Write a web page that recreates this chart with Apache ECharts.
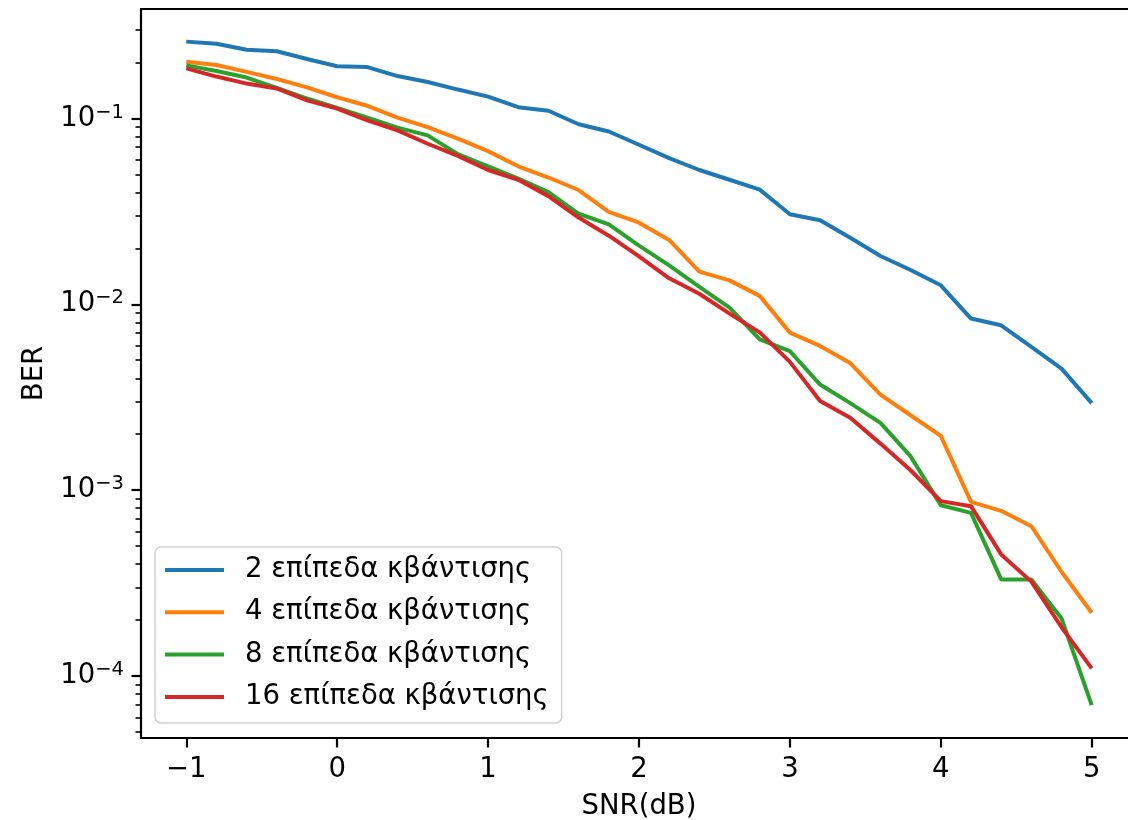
<!DOCTYPE html>
<html>
<head>
<meta charset="utf-8">
<script src="https://cdn.jsdelivr.net/npm/echarts@6/dist/echarts.min.js"></script>
<style>
  html, body { margin: 0; padding: 0; background: #fff; }
  #chart { width: 1128px; height: 820px; }
</style>
</head>
<body>
<div id="chart"></div>
<script>
// SNR values (dB)
var snr = [-1, -0.8, -0.6, -0.4, -0.2, 0, 0.2, 0.4, 0.6, 0.8, 1, 1.2, 1.4, 1.6, 1.8, 2,
           2.2, 2.4, 2.6, 2.8, 3, 3.2, 3.4, 3.6, 3.8, 4, 4.2, 4.4, 4.6, 4.8, 5];

var ber2 = [0.259, 0.252, 0.234, 0.230, 0.209, 0.191, 0.189, 0.169, 0.157, 0.143, 0.131,
            0.115, 0.110, 0.093, 0.0851, 0.0722, 0.0612, 0.0528, 0.0468, 0.0414, 0.0305,
            0.0283, 0.0228, 0.0182, 0.0153, 0.01265, 0.00838, 0.00771, 0.0059, 0.00451, 0.00294];
var ber4 = [0.202, 0.194, 0.178, 0.163, 0.147, 0.130, 0.117, 0.101, 0.0898, 0.0778, 0.0667,
            0.0553, 0.0481, 0.0412, 0.0314, 0.0275, 0.0222, 0.0150, 0.01345, 0.0111, 0.00704,
            0.00597, 0.00483, 0.00327, 0.00253, 0.00196, 0.000865, 0.000774, 0.00064, 0.000364, 0.000219];
var ber8 = [0.193, 0.180, 0.166, 0.146, 0.128, 0.114, 0.101, 0.0893, 0.0811, 0.0642, 0.0553,
            0.0474, 0.0402, 0.0307, 0.0269, 0.0207, 0.0162, 0.0124, 0.0096, 0.00648, 0.00560,
            0.00370, 0.00294, 0.00230, 0.00152, 0.00083, 0.000755, 0.000331, 0.000331, 0.000204, 0.0000698];
var ber16 = [0.186, 0.168, 0.154, 0.145, 0.125, 0.113, 0.0976, 0.0862, 0.0731, 0.0629, 0.0528,
             0.0468, 0.0382, 0.0293, 0.0234, 0.0181, 0.0138, 0.0114, 0.00891, 0.00706, 0.0049,
             0.00302, 0.00245, 0.00178, 0.00128, 0.000873, 0.00082, 0.000451, 0.000322, 0.000183, 0.000110];

var seriesNames = ['2 επίπεδα κβάντισης', '4 επίπεδα κβάντισης', '8 επίπεδα κβάντισης', '16 επίπεδα κβάντισης'];
var colors = ['#1f77b4', '#ff7f0e', '#2ca02c', '#d62728'];

var xTicks = [-1, 0, 1, 2, 3, 4, 5];
var yMajor = [0.1, 0.01, 0.001, 0.0001];
var yMinor = [];
[1e-5, 1e-4, 1e-3, 1e-2, 1e-1].forEach(function (d) {
    for (var k = 2; k <= 9; k++) yMinor.push(+(k * d).toPrecision(3));
});

var font = 'DejaVu Sans';
var fs = 27.5;

function pairs(ys) {
    return snr.map(function (x, i) { return [x, ys[i]]; });
}

var spine = { show: true, onZero: false, lineStyle: { color: '#000', width: 2.2 } };

var myChart = echarts.init(document.getElementById('chart'));
var option = {
    animation: false,
    backgroundColor: '#fff',
    color: colors,
    grid: {
        left: 141, top: 9, right: -9, bottom: 82,
        containLabel: false,
        outerBoundsMode: 'none',
        show: false
    },
    legend: {
        orient: 'vertical',
        left: 155, top: 547,
        padding: [8, 13, 11, 10],
        itemWidth: 59, itemHeight: 4,
        itemGap: 12.3,
        icon: 'rect',
        borderColor: '#d0d0d0',
        borderWidth: 1.5,
        borderRadius: 6,
        backgroundColor: 'rgba(255,255,255,0.8)',
        textStyle: { fontFamily: font, fontSize: fs, color: '#000', lineHeight: 30, padding: [0, 0, 0, 16] },
        data: seriesNames
    },
    xAxis: [{
        type: 'value',
        min: -1.3, max: 5.3,
        position: 'bottom',
        name: 'SNR(dB)',
        nameLocation: 'middle',
        nameGap: 55,
        nameTextStyle: { fontFamily: font, fontSize: fs, color: '#000' },
        axisLine: spine,
        axisTick: { show: true, customValues: xTicks, length: 9.5, lineStyle: { color: '#000', width: 2.2 } },
        axisLabel: {
            customValues: xTicks,
            margin: 18,
            fontFamily: font, fontSize: fs, color: '#000',
            formatter: function (v) { return String(v).replace('-', '\u2212'); }
        },
        splitLine: { show: false }
    }, {
        type: 'value',
        min: -1.3, max: 5.3,
        position: 'top',
        axisLine: spine,
        axisTick: { show: false },
        axisLabel: { show: false },
        splitLine: { show: false }
    }],
    yAxis: [{
        type: 'log',
        logBase: 10,
        min: 4.64e-5, max: 0.388,
        position: 'left',
        name: 'BER',
        nameLocation: 'middle',
        nameGap: 92,
        nameTextStyle: { fontFamily: font, fontSize: fs, color: '#000' },
        axisLine: spine,
        axisTick: { show: true, customValues: yMajor, length: 9.5, lineStyle: { color: '#000', width: 2.2 } },
        axisLabel: {
            customValues: yMajor,
            margin: 17,
            formatter: function (v) {
                var e = Math.round(Math.log10(v));
                return '{b|10}{s|\u2212' + (-e) + '}';
            },
            rich: {
                b: { fontFamily: font, fontSize: fs, color: '#000', lineHeight: 32 },
                s: { fontFamily: font, fontSize: 19.5, color: '#000', lineHeight: 19, verticalAlign: 'top' }
            }
        },
        splitLine: { show: false }
    }, {
        type: 'log',
        logBase: 10,
        min: 4.64e-5, max: 0.388,
        position: 'left',
        axisLine: { show: false, onZero: false },
        axisTick: { show: true, customValues: yMinor, length: 5.5, lineStyle: { color: '#000', width: 1.6 } },
        axisLabel: { show: false },
        splitLine: { show: false }
    }],
    series: [ber2, ber4, ber8, ber16].map(function (ys, i) {
        return {
            name: seriesNames[i],
            type: 'line',
            xAxisIndex: 0,
            yAxisIndex: 0,
            symbol: 'none',
            clip: true,
            lineStyle: { width: 4, color: colors[i] },
            data: pairs(ys)
        };
    })
};
myChart.setOption(option);
</script>
</body>
</html>
